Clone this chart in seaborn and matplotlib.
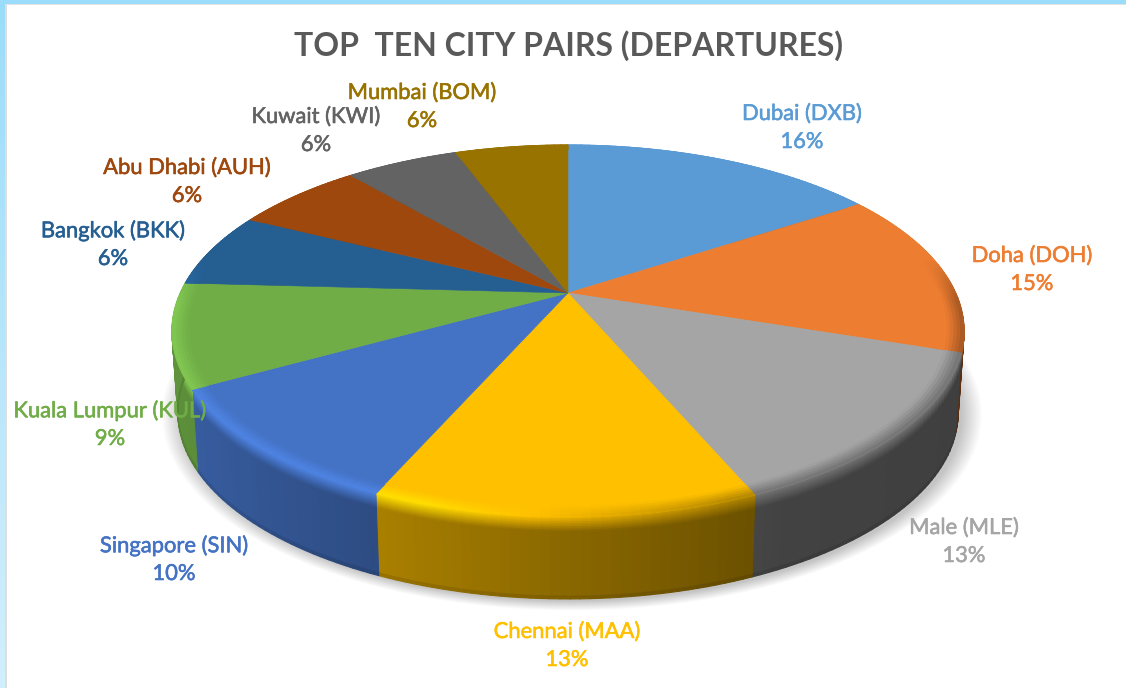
import numpy as np
import seaborn as sns
import matplotlib
matplotlib.use('Agg')
import matplotlib.pyplot as plt
import matplotlib.patheffects as pe
from matplotlib.collections import PolyCollection
from matplotlib.colors import to_rgb
from matplotlib.patches import Rectangle
from matplotlib.transforms import Transform

cities = ['Dubai (DXB)', 'Doha (DOH)', 'Male (MLE)', 'Chennai (MAA)', 'Singapore (SIN)',
          'Kuala Lumpur (KUL)', 'Bangkok (BKK)', 'Abu Dhabi (AUH)', 'Kuwait (KWI)', 'Mumbai (BOM)']
# slice sizes, the printed percentages differ a little
shares = [15.7, 14.4, 13.5, 13.0, 10.3, 9.0, 6.5, 6.4, 5.6, 5.6]
printed = [16, 15, 13, 13, 10, 9, 6, 6, 6, 6]
slice_colors = ['#5B9BD5', '#ED7D31', '#A5A5A5', '#FFC000', '#4472C4',
                '#70AD47', '#255E91', '#9E480E', '#636363', '#997300']
title = 'TOP  TEN CITY PAIRS (DEPARTURES)'

# label centres in pixels
label_xy = [(802, 128), (1032, 270), (964, 542), (567, 646), (174, 560),
            (110, 425), (113, 245), (187, 182), (316, 131), (422, 107)]

# tilted pie: centre, scales and perspective
cx, cy = 568, 293
bx, by, k = 387.7, 178.2, 0.2043
depth, shrink = 82, 0.985


def project(x, y):
    d = 1 + k * y
    return cx + bx * x / d, cy - by * y / d


class Tilt(Transform):
    input_dims = 2
    output_dims = 2

    def transform_non_affine(self, values):
        values = np.asarray(values)
        px, py = project(values[:, 0], values[:, 1])
        return np.column_stack([px, py])


sns.set_theme(style='white')
plt.rcParams['font.family'] = ['Lato', 'DejaVu Sans']
palette = sns.color_palette(slice_colors)

fig = plt.figure(figsize=(11.26, 6.88), dpi=100, facecolor='white')
ax = fig.add_axes([0, 0, 1, 1])
wedges, _ = ax.pie(shares, colors=palette, startangle=90, counterclock=False,
                   wedgeprops={'linewidth': 0.4})
ax.set_aspect('auto')
ax.set_xlim(0, 1126)
ax.set_ylim(688, 0)
ax.axis('off')

tilt = Tilt() + ax.transData
for w, c in zip(wedges, palette):
    w.set_transform(tilt)
    w.set_edgecolor(c)
    w.set_clip_on(False)
    w.set_zorder(3)

# pale blue frame, fading towards the bottom on the left
frame_top = np.array(to_rgb('#9ADCF9'))
frame_low = np.array(to_rgb('#D2EEFC'))
for y0 in range(0, 688, 8):
    ax.add_patch(Rectangle((0, y0), 5, 9, lw=0, zorder=0,
                           facecolor=frame_top + (frame_low - frame_top) * y0 / 688))
ax.add_patch(Rectangle((5, 4), 1.5, 684, lw=0, facecolor='#DDDDDD', zorder=0))
ax.add_patch(Rectangle((5, 3), 1121, 2, lw=0, facecolor='#E2E2E2', zorder=0))
ax.add_patch(Rectangle((0, 0), 1126, 3.5, lw=0, facecolor=frame_top, zorder=0))


def edge_points(theta, r=1.0):
    return project(r * np.sin(theta), r * np.cos(theta))


def base_points(theta):
    px, py = edge_points(theta)
    return cx + (px - cx) * shrink, py + depth


# soft shadow under the pie
theta_all = np.radians(np.linspace(0, 360, 241))
sx, sy = base_points(theta_all)
smid = (sy.max() + sy.min()) / 2
for grow in np.linspace(1.05, 1.0, 12):
    ax.fill(cx + 4 + (sx - cx) * grow, smid + 2 + (sy - smid) * grow,
            color='black', alpha=0.02, lw=0, zorder=1)

# rim and bevel, shaded slice by slice
side_polys, side_cols, bevel_polys, bevel_cols = [], [], [], []
bounds = np.radians(np.cumsum([0] + shares) * 3.6)
layers = np.r_[np.linspace(0, 0.18, 10), 0.965, 1.0]
radii = np.linspace(0.96, 1, 6)
for i, c in enumerate(palette):
    base = np.array(c)
    steps = np.linspace(bounds[i], bounds[i + 1], max(int(shares[i] * 3), 4) + 1)
    for t0, t1 in zip(steps[:-1], steps[1:]):
        mid = (t0 + t1) / 2
        x, y = np.sin(mid), np.cos(mid)
        lum = np.interp(x, [-1, -0.45, 0.45, 1], [0.85, 0.68, 0.40, 0.38])
        front = np.clip((0.2 - y) / 0.25, 0, 1)
        h = np.interp(x, [-1, -0.3, 0.35, 1], [0.16, 0.16, -0.3, -0.3]) * front
        edge_col = np.clip(base * (1 + h), 0, 1)
        side_col = base * lum
        x0, y0 = edge_points(t0)
        x1, y1 = edge_points(t1)
        bx0, by0 = base_points(t0)
        bx1, by1 = base_points(t1)
        for a, b in zip(layers[:-1], layers[1:]):
            m = (a + b) / 2
            col = edge_col + (side_col - edge_col) * min(m / 0.18, 1)
            if a >= 0.965:
                col = col * 0.9
            side_polys.append([(x0 + (bx0 - x0) * a, y0 + (by0 - y0) * a),
                               (x1 + (bx1 - x1) * a, y1 + (by1 - y1) * a),
                               (x1 + (bx1 - x1) * b, y1 + (by1 - y1) * b),
                               (x0 + (bx0 - x0) * b, y0 + (by0 - y0) * b)])
            side_cols.append(col)
        for a, b in zip(radii[:-1], radii[1:]):
            m = ((a + b) / 2 - 0.96) / 0.04
            bevel_polys.append([edge_points(t0, a), edge_points(t1, a),
                                edge_points(t1, b), edge_points(t0, b)])
            bevel_cols.append(base + (edge_col - base) * m)

ax.add_collection(PolyCollection(side_polys, facecolors=side_cols, edgecolors=side_cols,
                                 linewidths=0.8, zorder=2))
ax.add_collection(PolyCollection(bevel_polys, facecolors=bevel_cols, edgecolors=bevel_cols,
                                 linewidths=0.8, zorder=4))

ax.text(569, 46, title, ha='center', va='center', fontsize=23, fontweight='bold',
        color='#595959', zorder=6)
for city, pct, xy, c in zip(cities, printed, label_xy, palette):
    stroke = [pe.withStroke(linewidth=0.4, foreground=c)]
    ax.text(xy[0], xy[1] - 14, city, ha='center', va='center', fontsize=15.8,
            color=c, zorder=6, path_effects=stroke)
    ax.text(xy[0], xy[1] + 14, f'{pct}%', ha='center', va='center', fontsize=15.8,
            color=c, zorder=6, path_effects=stroke)

fig.savefig('out.png', dpi=100, facecolor='white')
